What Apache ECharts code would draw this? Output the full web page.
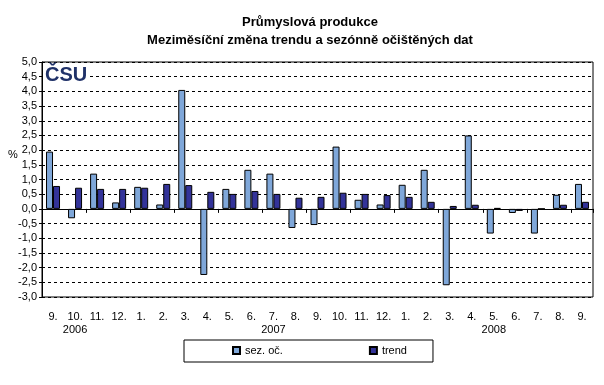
<!DOCTYPE html>
<html><head><meta charset="utf-8">
<script src="https://cdn.jsdelivr.net/npm/echarts@6/dist/echarts.min.js"></script>
<style>html,body{margin:0;padding:0;background:#fff}#c{width:604px;height:385px}</style>
</head><body><div id="c"></div>
<script>
var months = ['9.','10.','11.','12.','1.','2.','3.','4.','5.','6.','7.','8.','9.','10.','11.','12.','1.','2.','3.','4.','5.','6.','7.','8.','9.'];
var years = ['','2006','','','','','','','','','2007','','','','','','','','','','2008','','','',''];
var sezOc = [1.95,-0.32,1.2,0.22,0.75,0.15,4.05,-2.25,0.68,1.33,1.2,-0.65,-0.55,2.12,0.31,0.15,0.82,1.33,-2.6,2.5,-0.84,-0.14,-0.84,0.48,0.85];
var trend = [0.78,0.72,0.68,0.68,0.72,0.85,0.81,0.58,0.51,0.61,0.51,0.38,0.41,0.55,0.51,0.47,0.41,0.24,0.10,0.14,0.03,-0.07,0.0,0.14,0.24];
var yMin = -3, yMax = 5, yStep = 0.5;

var chart = echarts.init(document.getElementById('c'), null, {renderer:'canvas'});
var font = 'Liberation Sans, Arial, sans-serif';
var cats = months.map(function(m,i){return m + '\n' + years[i];});
chart.setOption({
  animation:false,
  textStyle:{fontFamily:font},
  title:{
    text:'Průmyslová produkce\nMeziměsíční změna trendu a sezónně očištěných dat',
    left:305, top:8, textAlign:'center',
    textStyle:{fontSize:13, fontWeight:'bold', color:'#000', lineHeight:18, fontFamily:font}
  },
  legend:{
    left:184, top:340, orient:'horizontal',
    padding:[5,26,6,48], itemGap:86,
    itemWidth:7, itemHeight:7, icon:'rect',
    borderColor:'#000', borderWidth:1,
    textStyle:{fontSize:11, color:'#000', fontFamily:font},
    data:['sez. oč.','trend']
  },
  grid:{left:42, right:11, top:62, bottom:88, show:true, borderColor:'#000', borderWidth:1, backgroundColor:'#fff'},
  xAxis:[{
    type:'category', data:cats, position:'bottom',
    axisLine:{show:false, onZero:false}, axisTick:{show:false},
    axisLabel:{interval:0, margin:13, fontSize:11, color:'#000', lineHeight:13, fontFamily:font}
  },{
    type:'category', data:cats, position:'bottom',
    axisLine:{show:true, onZero:true, lineStyle:{color:'#000', width:1}},
    axisTick:{show:true, length:4, inside:false, lineStyle:{color:'#000'}},
    axisLabel:{show:false}, splitLine:{show:false}
  }],
  yAxis:{
    type:'value', min:yMin, max:yMax, interval:yStep,
    axisLine:{show:true, lineStyle:{color:'#000'}},
    axisTick:{show:true, length:3, lineStyle:{color:'#000'}},
    axisLabel:{fontSize:11, color:'#000', margin:5, fontFamily:font,
      formatter:function(v){return v.toFixed(1).replace('.',',');}},
    splitLine:{show:true, lineStyle:{color:'#000', type:[3,3], width:1}}
  },
  graphic:[
    {type:'text', left:8, top:149, style:{text:'%', fontSize:11, fill:'#000', font:'11px '+font}},
    {type:'rect', left:43, top:64, z:10, shape:{width:46, height:24}, style:{fill:'#fff'}},
    {type:'text', left:45, top:65, z:11, style:{text:'ČSU', font:'bold 20px '+font, fill:'#1f3168'}}
  ],
  series:[
    {name:'sez. oč.', type:'bar', xAxisIndex:0, data:sezOc, barWidth:7, barGap:'0%',
      itemStyle:{color:'#7fa7d9', borderColor:'#000', borderWidth:1}},
    {name:'trend', type:'bar', xAxisIndex:0, data:trend, barWidth:7, barGap:'0%',
      itemStyle:{color:'#333399', borderColor:'#000', borderWidth:1}}
  ]
});
</script></body></html>
